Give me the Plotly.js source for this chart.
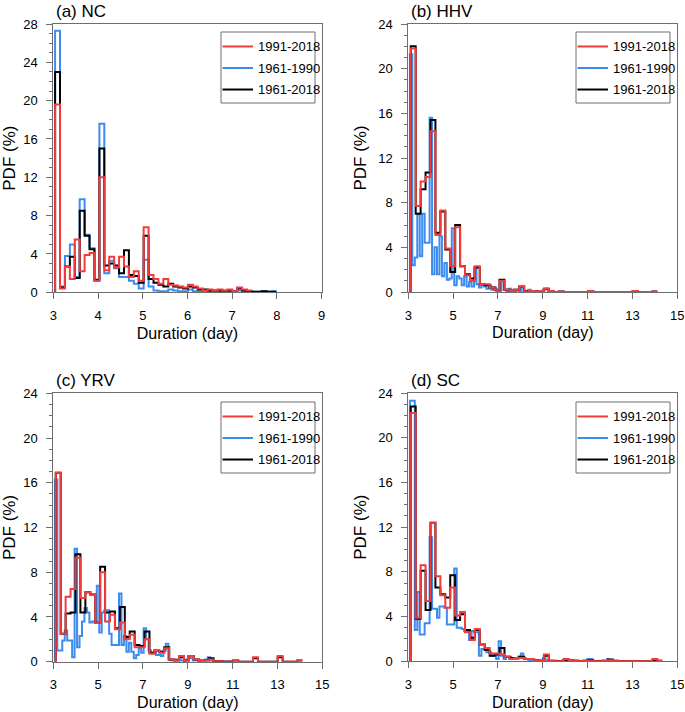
<!DOCTYPE html>
<html>
<head>
<meta charset="utf-8">
<script src="https://cdn.plot.ly/plotly-3.0.1.min.js"></script>
<style>
  html, body { margin: 0; padding: 0; background: #ffffff; }
  #chart { width: 685px; height: 712px; }
</style>
</head>
<body>
<div id="chart"></div>
<script>
// ---------------- DATA ----------------
// Series names (legend labels)
const seriesNames = ["1991-2018", "1961-1990", "1961-2018"];
const panelTitles = ["(a) NC", "(b) HHV", "(c) YRV", "(d) SC"];

// Histogram bins (duration in days): first bin start and bin width
const ncBinStart = 3.04, ncBinWidth = 0.11;          // NC, all periods
const wideBinStart = 3.11, wideBinWidth = 0.22;      // HHV/YRV/SC, 1991-2018 and 1961-2018
const narrowBinStart = 3.07, narrowBinWidth = 0.11;  // HHV/YRV/SC, 1961-1990

// PDF (%) values per bin
const nc_1991_2018 = [19.6, 0.4, 2.7, 1.4, 5.5, 2.2, 3.9, 4.1, 1.2, 12.0,
  2.3, 3.7, 2.6, 3.7, 2.7, 1.6, 2.2, 1.2, 6.8, 1.8,
  1.4, 0.9, 1.4, 0.8, 0.7, 0.6, 0.5, 0.8, 0.6, 0.4,
  0.2, 0.3, 0.2, 0.3, 0.2, 0.3, 0.1, 0.5, 0.3, 0.2];
const nc_1961_1990 = [27.3, 0.6, 3.8, 5.0, 1.6, 9.7, 6.0, 4.6, 1.2, 17.6,
  2.0, 3.3, 2.5, 1.6, 1.6, 1.2, 0.9, 0.4, 3.4, 0.6,
  0.2, 0.1, 0.1, 0.3, 0.2, 0.1, 0.1, 0.3, 0.1, 0.1,
  0.05, 0.1, 0.05, 0.1, 0.05, 0.05, 0.1, 0.2, 0.05, 0.05,
  0.05, 0.05, 0.1, 0.05, 0.1];
const nc_1961_2018 = [23.0, 0.5, 2.7, 3.7, 1.5, 8.5, 5.9, 4.5, 1.3, 15.0,
  2.8, 3.0, 2.8, 2.0, 4.4, 1.8, 1.7, 1.0, 5.9, 1.4,
  1.0, 0.8, 0.6, 0.9, 0.6, 0.5, 0.4, 0.6, 0.5, 0.3,
  0.3, 0.2, 0.2, 0.2, 0.15, 0.2, 0.1, 0.4, 0.2, 0.1,
  0.05, 0.05, 0.1, 0.05, 0.05];

const hhv_1991_2018 = [21.8, 7.7, 9.9, 10.3, 14.4, 5.1, 7.3, 3.9, 2.3, 5.8,
  2.3, 1.5, 1.0, 2.3, 0.7, 0.7, 0.4, 0.2, 1.0, 0.2,
  0.1, 0.2, 0.5, 0.05, 0.1, 0.05, 0.1, 0.3, 0.1, 0.0,
  0.05, 0.0, 0.0, 0.0, 0.0, 0.0, 0.1, 0.0, 0.0, 0.0,
  0.0, 0.0, 0.0, 0.0, 0.0, 0.1, 0.0, 0.0, 0.0, 0.05];
const hhv_1961_1990 = [21.3, 2.4, 3.1, 7.0, 3.2, 7.0, 4.4, 4.4, 15.6, 1.6,
  4.0, 1.6, 5.0, 1.4, 2.6, 1.1, 1.2, 5.7, 0.6, 1.4,
  1.2, 0.6, 1.4, 0.5, 0.9, 0.5, 2.2, 0.7, 0.4, 0.6,
  0.5, 0.3, 0.6, 0.2, 0.4, 0.1, 0.0, 1.0, 0.2, 0.1,
  0.3, 0.2, 0.1, 0.2, 0.1, 0.4, 0.0, 0.1, 0.2, 0.1,
  0.1, 0.0, 0.1, 0.0, 0.2, 0.3, 0.1, 0.05];
const hhv_1961_2018 = [22.0, 7.0, 9.2, 10.7, 15.4, 5.3, 7.2, 3.8, 1.8, 6.0,
  2.3, 1.6, 1.2, 2.2, 0.7, 0.6, 0.4, 0.2, 1.1, 0.2,
  0.1, 0.2, 0.5, 0.1, 0.1, 0.05, 0.1, 0.3, 0.1, 0.0,
  0.05, 0.0, 0.0, 0.0, 0.0, 0.0, 0.1, 0.0, 0.0, 0.0,
  0.0, 0.0, 0.0, 0.0, 0.0, 0.1, 0.0, 0.0, 0.0, 0.05];

const yrv_1991_2018 = [16.9, 2.5, 5.8, 6.5, 9.3, 5.7, 6.2, 6.0, 3.5, 8.0,
  3.6, 4.2, 2.9, 3.5, 2.0, 2.4, 1.3, 1.3, 2.0, 0.7,
  1.0, 0.8, 1.2, 0.2, 0.1, 0.5, 0.1, 0.5, 0.2, 0.1,
  0.1, 0.2, 0.05, 0.05, 0.0, 0.0, 0.1, 0.0, 0.0, 0.0,
  0.4, 0.0, 0.0, 0.0, 0.0, 0.5, 0.0, 0.0, 0.0, 0.1];
const yrv_1961_1990 = [16.3, 1.0, 1.0, 1.9, 2.8, 1.9, 1.9, 0.4, 10.1, 1.3,
  2.3, 3.6, 4.8, 4.4, 3.5, 3.6, 3.5, 6.8, 2.6, 4.4,
  4.6, 4.6, 2.5, 1.5, 1.5, 1.5, 6.1, 1.5, 2.3, 0.9,
  1.7, 0.9, 0.3, 0.6, 1.2, 0.8, 3.0, 2.0, 1.0, 0.8,
  0.8, 0.6, 0.6, 0.5, 1.0, 1.6, 0.2, 0.1, 0.1, 0.2,
  0.2, 0.1, 0.0, 0.2, 0.5, 0.3, 0.1, 0.1, 0.05, 0.1,
  0.1, 0.2, 0.4, 0.1, 0.05, 0.05, 0.0, 0.05, 0.0, 0.0,
  0.05, 0.05];
const yrv_1961_2018 = [16.9, 2.5, 4.3, 4.4, 9.6, 4.4, 6.2, 6.0, 3.5, 8.5,
  4.4, 4.5, 3.0, 4.9, 2.2, 2.7, 1.5, 1.4, 2.7, 0.8,
  1.0, 0.9, 1.3, 0.2, 0.1, 0.4, 0.1, 0.5, 0.2, 0.1,
  0.1, 0.3, 0.05, 0.05, 0.0, 0.0, 0.1, 0.0, 0.0, 0.0,
  0.3, 0.0, 0.0, 0.0, 0.0, 0.4, 0.0, 0.0, 0.0, 0.1];

const sc_1991_2018 = [22.2, 3.9, 8.6, 5.4, 12.4, 7.6, 5.9, 4.8, 6.6, 4.1,
  4.4, 2.6, 1.9, 2.9, 1.5, 1.2, 0.7, 0.7, 0.6, 0.4,
  0.2, 0.3, 0.3, 0.2, 0.2, 0.1, 0.05, 0.6, 0.05, 0.0,
  0.0, 0.2, 0.1, 0.05, 0.0, 0.05, 0.05, 0.0, 0.0, 0.05,
  0.1, 0.05, 0.0, 0.0, 0.0, 0.0, 0.0, 0.0, 0.0, 0.2, 0.05];
const sc_1961_1990 = [23.3, 23.3, 2.8, 6.2, 2.4, 2.4, 3.4, 3.4, 11.1, 4.7,
  4.7, 3.9, 4.9, 4.9, 4.8, 3.3, 3.3, 3.3, 8.3, 3.0,
  3.0, 2.9, 2.7, 2.7, 1.9, 2.7, 2.6, 2.6, 0.5, 1.1,
  1.1, 0.8, 0.8, 0.5, 0.5, 0.2, 1.8, 0.5, 0.2, 0.4,
  0.4, 0.3, 0.3, 0.2, 0.4, 0.7, 0.3, 0.2, 0.1, 0.1,
  0.1, 0.0, 0.1, 0.05, 0.3, 0.1, 0.05, 0.05, 0.0, 0.05,
  0.0, 0.0, 0.1, 0.1, 0.05, 0.0, 0.0, 0.05, 0.0, 0.0,
  0.0, 0.05, 0.2, 0.2, 0.0, 0.0, 0.0, 0.05, 0.0, 0.0, 0.2];
const sc_1961_2018 = [22.8, 3.8, 8.1, 4.6, 12.4, 6.6, 6.0, 5.7, 7.7, 3.7,
  4.2, 2.8, 2.1, 2.8, 1.5, 1.0, 0.5, 0.6, 1.2, 0.4,
  0.3, 0.3, 0.4, 0.2, 0.2, 0.1, 0.05, 0.5, 0.05, 0.0,
  0.0, 0.1, 0.1, 0.05, 0.0, 0.05, 0.1, 0.0, 0.0, 0.05,
  0.15, 0.05, 0.0, 0.0, 0.0, 0.0, 0.0, 0.0, 0.0, 0.1, 0.05];

// Axis settings (ticks)
const ncXTicks = [3, 4, 5, 6, 7, 8, 9];
const wideXTicks = [3, 5, 7, 9, 11, 13, 15];
const ncYTicks = [0, 4, 8, 12, 16, 20, 24, 28];
const otherYTicks = [0, 4, 8, 12, 16, 20, 24];

// ---------------- STYLE ----------------
const FONT = "Liberation Sans, Arial, Helvetica, sans-serif";
const colors = { "1991-2018": "#f23c3c", "1961-1990": "#3c8cf0", "1961-2018": "#000000" };
const legendOrder = ["1991-2018", "1961-1990", "1961-2018"];
const W = 685, H = 712;
const FRAME = "#6e6e6e";

function stepTrace(start, width, values, name, xa, ya) {
  const x = [start], y = [0];
  for (let i = 0; i < values.length; i++) { x.push(start + i * width); y.push(values[i]); }
  x.push(start + values.length * width); y.push(values[values.length - 1]);
  return {
    type: "scatter", mode: "lines", x: x, y: y, name: name,
    line: { shape: "hv", color: colors[name], width: 2 },
    xaxis: xa, yaxis: ya, showlegend: false,
    hoverinfo: "x+y+name"
  };
}

const panels = [
  { id: "", title: panelTitles[0], xr: [3, 9], xt: ncXTicks, yr: [0, 28], yt: ncYTicks,
    red: [ncBinStart, ncBinWidth, nc_1991_2018], blue: [ncBinStart, ncBinWidth, nc_1961_1990], black: [ncBinStart, ncBinWidth, nc_1961_2018],
    px: [53.3, 321.7], py: [24, 292.3], legendBox: [221, 315, 32, 103] },
  { id: "2", title: panelTitles[1], xr: [3, 15], xt: wideXTicks, yr: [0, 24], yt: otherYTicks,
    red: [wideBinStart, wideBinWidth, hhv_1991_2018], blue: [narrowBinStart, narrowBinWidth, hhv_1961_1990], black: [wideBinStart, wideBinWidth, hhv_1961_2018],
    px: [408.3, 677.3], py: [24, 292], legendBox: [576, 670, 32, 103] },
  { id: "3", title: panelTitles[2], xr: [3, 15], xt: wideXTicks, yr: [0, 24], yt: otherYTicks,
    red: [wideBinStart, wideBinWidth, yrv_1991_2018], blue: [narrowBinStart, narrowBinWidth, yrv_1961_1990], black: [wideBinStart, wideBinWidth, yrv_1961_2018],
    px: [53.3, 322.3], py: [393.3, 661.7], legendBox: [221, 315, 402, 473] },
  { id: "4", title: panelTitles[3], xr: [3, 15], xt: wideXTicks, yr: [0, 24], yt: otherYTicks,
    red: [wideBinStart, wideBinWidth, sc_1991_2018], blue: [narrowBinStart, narrowBinWidth, sc_1961_1990], black: [wideBinStart, wideBinWidth, sc_1961_2018],
    px: [408.3, 677.3], py: [393, 661.3], legendBox: [576, 670, 402, 473] }
];

const data = [];
const layout = {
  width: W, height: H,
  margin: { l: 0, r: 0, t: 0, b: 0 },
  paper_bgcolor: "#ffffff", plot_bgcolor: "#ffffff",
  font: { family: FONT, size: 13, color: "#000000" },
  showlegend: false,
  annotations: [], shapes: []
};

const px2x = v => v / W;
const px2y = v => 1 - v / H;

panels.forEach((p, i) => {
  const xa = "x" + p.id, ya = "y" + p.id;
  // draw order: blue, black, red (red on top)
  data.push(stepTrace(p.blue[0], p.blue[1], p.blue[2], seriesNames[1], xa, ya));
  data.push(stepTrace(p.black[0], p.black[1], p.black[2], seriesNames[2], xa, ya));
  data.push(stepTrace(p.red[0], p.red[1], p.red[2], seriesNames[0], xa, ya));

  const axisCommon = {
    showline: true, linecolor: FRAME, linewidth: 1, mirror: true,
    showgrid: false, zeroline: false,
    ticks: "outside", ticklen: 6, tickwidth: 1, tickcolor: FRAME,
    tickfont: { family: FONT, size: 13, color: "#000000" },
    fixedrange: true
  };
  layout["xaxis" + p.id] = Object.assign({}, axisCommon, {
    domain: [px2x(p.px[0]), px2x(p.px[1])],
    anchor: ya, range: p.xr, tickmode: "array", tickvals: p.xt,
    ticklabelstandoff: 5,
    title: { text: "Duration (day)", font: { family: FONT, size: 16 }, standoff: 5 }
  });
  layout["yaxis" + p.id] = Object.assign({}, axisCommon, {
    domain: [px2y(p.py[1]), px2y(p.py[0])],
    anchor: xa, range: p.yr, tickmode: "array", tickvals: p.yt,
    ticklabelstandoff: 6,
    minor: { dtick: 1, ticks: "outside", ticklen: 3, tickcolor: FRAME, tickwidth: 1 },
    title: { text: "PDF (%)", font: { family: FONT, size: 17 }, standoff: 7 }
  });

  // Panel legend (box, line samples, labels)
  const [bx0, bx1, by0, by1] = p.legendBox;
  layout.shapes.push({
    type: "rect", xref: "paper", yref: "paper", layer: "above",
    x0: px2x(bx0), x1: px2x(bx1), y0: px2y(by1), y1: px2y(by0),
    line: { color: FRAME, width: 1 }, fillcolor: "#ffffff"
  });
  const rowH = (by1 - by0) / 3.3;
  legendOrder.forEach((name, k) => {
    const ry = by0 + rowH * (0.65 + k) + 0.5;
    layout.shapes.push({
      type: "line", xref: "paper", yref: "paper", layer: "above",
      x0: px2x(bx0 + 1.5), x1: px2x(bx0 + 32), y0: px2y(ry), y1: px2y(ry),
      line: { color: colors[name], width: 2 }
    });
    layout.annotations.push({
      text: name, xref: "paper", yref: "paper",
      x: px2x(bx0 + 35), y: px2y(ry), xanchor: "left", yanchor: "middle",
      showarrow: false, font: { family: FONT, size: 13, color: "#000000" }
    });
  });

  layout.annotations.push({
    text: p.title, xref: "paper", yref: "paper",
    x: px2x(p.px[0] + 1), y: px2y(p.py[0] - 13), xanchor: "left", yanchor: "middle",
    showarrow: false, font: { family: FONT, size: 17, color: "#000000" }
  });
});

Plotly.newPlot("chart", data, layout, { staticPlot: true, displayModeBar: false });
</script>
</body>
</html>
